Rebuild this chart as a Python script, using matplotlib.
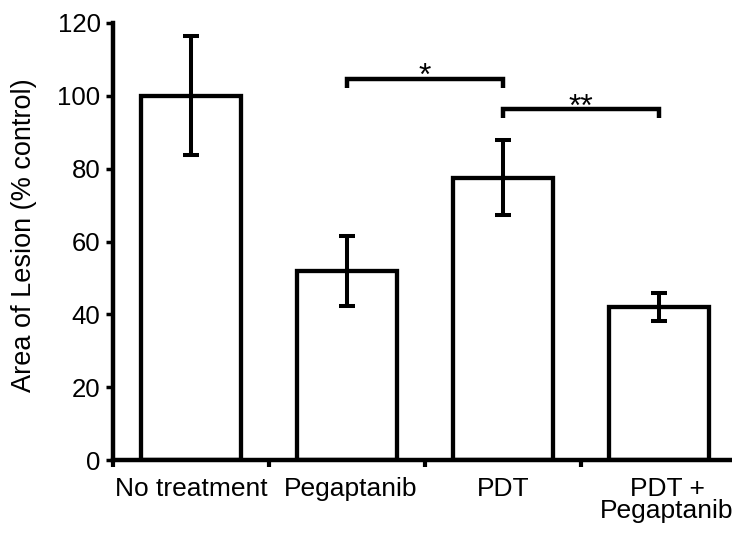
import matplotlib
matplotlib.use("Agg")
import matplotlib.pyplot as plt
from matplotlib.transforms import ScaledTranslation

plt.rcParams["font.family"] = ["Liberation Sans", "DejaVu Sans"]

# data
groups = ["No treatment", "Pegaptanib", "PDT", "PDT +\nPegaptanib"]
area = [100.0, 52.0, 77.5, 42.0]
err = [16.3, 9.6, 10.3, 3.8]

# significance brackets: (left bar, right bar), bracket height, label
pairs = [(1, 2), (2, 3)]
bracket_y = [104.7, 96.4]
stars = ["*", "**"]

LW = 3.1

fig = plt.figure(figsize=(7.32, 5.36), dpi=100)
ax = fig.add_axes([113 / 732, 76 / 536, 624 / 732, 437 / 536])

x = list(range(len(groups)))
ax.bar(x, area, width=0.64, color="white", edgecolor="black",
       linewidth=LW, zorder=2)
ax.errorbar(x, area, yerr=err, fmt="none", ecolor="black",
            elinewidth=2.9, capsize=5.8, capthick=2.9, zorder=3)

for (a, b), yb, s in zip(pairs, bracket_y, stars):
    leg = 2.5
    ax.plot([a, a, b, b], [yb - leg, yb, yb, yb - leg], color="black",
            linewidth=3.2, solid_joinstyle="miter", solid_capstyle="butt",
            zorder=3, clip_on=False)
    ax.text((a + b) / 2, yb - 1.8, s, ha="center", va="baseline",
            fontsize=23)

ax.set_xlim(-0.5, 3.5)
ax.set_ylim(0, 120)
ax.set_yticks(range(0, 121, 20))

ax.set_xticks([-0.5, 0.5, 1.5, 2.5, 3.5])
ax.set_xticklabels([])
ax.set_xticks(x, minor=True)
ax.set_xticklabels(groups, minor=True, fontsize=19, linespacing=0.93)
ax.tick_params(axis="x", which="minor", length=0, pad=12)
ax.tick_params(axis="x", which="major", direction="out", length=5,
               width=3, color="black")
ax.tick_params(axis="y", direction="out", length=5, width=2.5,
               labelsize=18.5, pad=4)

# nudge a couple of labels right, as in the original
labels = ax.get_xticklabels(minor=True)
for i, dx in [(1, 4), (3, 8)]:
    lbl = labels[i]
    lbl.set_transform(lbl.get_transform()
                      + ScaledTranslation(dx / 100, 0, fig.dpi_scale_trans))

ax.spines[["top", "right"]].set_visible(False)
ax.spines[["left", "bottom"]].set_linewidth(3.2)

ax.set_ylabel("Area of Lesion (% control)", fontsize=19.5)
ax.yaxis.set_label_coords(-0.122, 0.515)

fig.savefig("out.png", dpi=100)
